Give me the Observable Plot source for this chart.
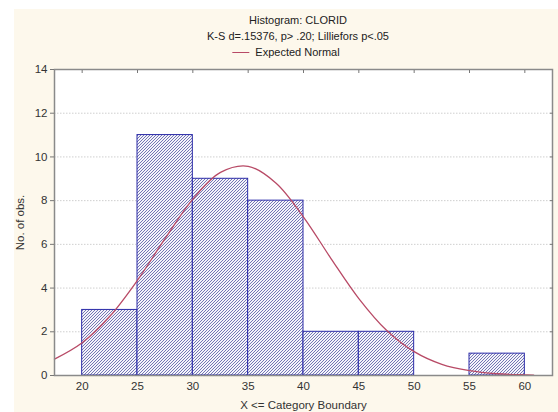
<!DOCTYPE html>
<html>
<head>
<meta charset="utf-8">
<script src="https://cdn.jsdelivr.net/npm/d3@7"></script>
<script src="https://cdn.jsdelivr.net/npm/@observablehq/plot@0.6"></script>
<style>
  html, body { margin: 0; padding: 0; background: #ffffff; }
  body { width: 558px; height: 412px; position: relative; overflow: hidden; font-family: "Liberation Sans", Arial, sans-serif; }
  #panel { position: absolute; left: 14px; top: 9px; width: 544px; height: 403px; background: #fdf8ec; }
  .t { position: absolute; left: 298px; transform: translateX(-50%); white-space: nowrap; font-size: 11px; color: #222; line-height: 13px; }
  #legend { display: flex; align-items: center; }
  #legend .sw { display: inline-block; width: 17px; height: 0; border-top: 1.3px solid #b84a66; margin-right: 6px; }
  #chart { position: absolute; left: 0; top: 60px; }
</style>
</head>
<body>
<div id="panel"></div>
<div class="t" style="top:14px">Histogram: CLORID</div>
<div class="t" style="top:30px">K-S d=.15376, p&gt; .20; Lilliefors p&lt;.05</div>
<div class="t" id="legend" style="top:46px;left:286px"><span class="sw"></span><span>Expected Normal</span></div>
<div id="chart"></div>
<script>
// Histogram bins (category boundaries) and counts
const binStart = [20, 25, 30, 35, 40, 45, 50, 55];
const binEnd   = [25, 30, 35, 40, 45, 50, 55, 60];
const counts   = [3, 11, 9, 8, 2, 2, 0, 1];

// Expected normal curve
const curveX = [17.5, 20, 22.5, 25, 27.5, 30, 32.5, 35, 37.5, 40, 42.5, 45, 47.5, 50, 52.5, 55, 57.5, 60, 60.8];
const curveY = [0.75, 1.50, 2.71, 4.36, 6.27, 8.07, 9.29, 9.57, 8.81, 7.25, 5.34, 3.52, 2.07, 1.09, 0.51, 0.22, 0.08, 0.03, 0.02];

const xTicks = [20, 25, 30, 35, 40, 45, 50, 55, 60];
const yTicks = [0, 2, 4, 6, 8, 10, 12, 14];
const gridTicks = [2, 4, 6, 8, 10, 12];

const bars = binStart.map((s, i) => ({x1: s, x2: binEnd[i], y: counts[i]})).filter(d => d.y > 0);
const curve = curveX.map((x, i) => ({x, y: curveY[i]}));

const BAR_FILL = "#b0b2d1";

const svg = Plot.plot({
  width: 558,
  height: 352,
  marginLeft: 54,
  marginRight: 6,
  marginTop: 9,
  marginBottom: 37,
  style: { background: "transparent", fontFamily: "Liberation Sans, Arial, sans-serif", fontSize: "11.5px", color: "#333" },
  x: { domain: [17.5, 62.5] },
  y: { domain: [0, 14] },
  marks: [
    Plot.rectY([0], {x1: 17.5, x2: 62.5, y1: 0, y2: 14, fill: "white"}),
    Plot.gridY(gridTicks, {stroke: "#cfcfcf", strokeOpacity: 1, strokeDasharray: "1.5,1.5"}),
    Plot.rectY(bars, {x1: "x1", x2: "x2", y1: 0, y2: "y", fill: BAR_FILL, stroke: "#2a2aa8", strokeWidth: 1}),
    Plot.line(curve, {x: "x", y: "y", stroke: "#b84a66", strokeWidth: 1.3, curve: "catmull-rom"}),
    Plot.frame({stroke: "#8a8a8a", strokeWidth: 1.5}),
    Plot.axisX(xTicks, {anchor: "bottom", tickSize: 0, tickPadding: 6, label: "X <= Category Boundary", labelAnchor: "center", labelArrow: "none", labelOffset: 33, fill: "#333"}),
    Plot.axisX(xTicks, {anchor: "top", tickSize: -3, tickFormat: () => "", label: null, stroke: "#777"}),
    Plot.axisY(yTicks, {anchor: "left", tickSize: 4, tickPadding: 3, label: "No. of obs.", labelAnchor: "center", labelArrow: "none", labelOffset: 39, fill: "#333", stroke: "#777"}),
    Plot.axisY(gridTicks, {anchor: "right", tickSize: -3, tickFormat: () => "", label: null, stroke: "#777"})
  ]
});

// diagonal hatch pattern for the bars
const s = d3.select(svg);
const defs = s.insert("defs", ":first-child");
const pat = defs.append("pattern").attr("id", "hatch").attr("patternUnits", "userSpaceOnUse").attr("width", 3).attr("height", 3);
pat.append("rect").attr("width", 3).attr("height", 3).attr("fill", "#f4f4fa");
pat.append("path").attr("d", "M-1,1 l2,-2 M0,3 l3,-3 M2,4 l2,-2").attr("stroke", "#7476b4").attr("stroke-width", 1);
s.selectAll("[fill]").filter(function() { return (this.getAttribute("fill") || "").toLowerCase() === BAR_FILL; }).attr("fill", "url(#hatch)");

document.getElementById("chart").appendChild(svg);
</script>
</body>
</html>
